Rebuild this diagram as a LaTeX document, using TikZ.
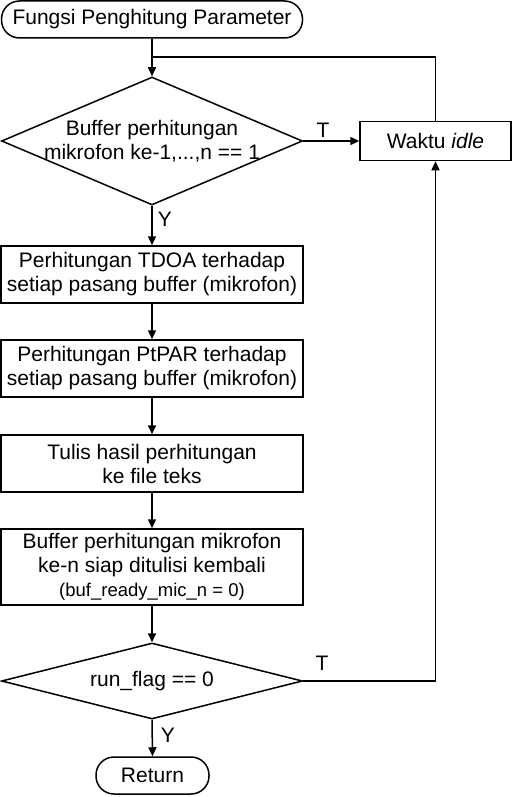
\documentclass[tikz,border=0pt]{standalone}
\usepackage{fontspec}
\setmainfont{Liberation Sans}
\usetikzlibrary{shapes.geometric,arrows.meta}
\begin{document}
\begin{tikzpicture}[x=1pt,y=-1pt,line width=1.5pt,
  font=\fontsize{21}{24}\selectfont,
  term/.style={draw, rounded corners=18pt, minimum height=37pt, inner sep=0pt},
  proc/.style={draw, rectangle, minimum width=302pt, align=center, inner sep=0pt},
  dec/.style={draw, diamond, minimum width=301pt, inner sep=0pt},
  arr/.style={-{Triangle[length=9pt,width=8pt]}},
  lbl/.style={inner sep=0pt}]
\useasboundingbox (0,0) rectangle (513,797);
\node [term, minimum width=301pt] (start) at (152,19.5) {Fungsi Penghitung Parameter};
\node [dec, minimum height=128pt] (cek) at (152,141) {};
\node [align=center] (cekteks) at (cek) {Buffer perhitungan\\mikrofon ke-1,...,n == 1};
\node [proc, minimum width=151pt, minimum height=39pt] (idle) at (435.5,141) {Waktu \textit{idle}};
\node [proc, minimum height=57pt] (tdoa) at (152,274.5) {Perhitungan TDOA terhadap\\setiap pasang buffer (mikrofon)};
\node [proc, minimum height=57pt] (ptpar) at (152,368.5) {Perhitungan PtPAR terhadap\\setiap pasang buffer (mikrofon)};
\node [proc, minimum height=57pt] (tulis) at (152,463.5) {Tulis hasil perhitungan\\ke file teks};
\node [proc, minimum height=76pt] (siap) at (152,567) {Buffer perhitungan mikrofon\\ke-n siap ditulisi kembali\\{\fontsize{18.5}{22}\selectfont(buf\_ready\_mic\_n = 0)}};
\node [dec, minimum height=76pt] (flag) at (152,681) {};
\node (flagteks) at (flag) {run\_flag == 0};
\node [term, minimum width=113pt] (ret) at (152.5,775.5) {Return};
\coordinate (gabung) at (152,57);
% konektor
\draw [arr] (start) -- (cek.north);
\draw (idle.north) |- (gabung);
\draw [arr] (cek.east) -- (idle.west);
\draw [arr] (cek.south) -- (tdoa.north);
\draw [arr] (tdoa) -- (ptpar);
\draw [arr] (ptpar) -- (tulis);
\draw [arr] (tulis) -- (siap);
\draw [arr] (siap.south) -- (flag.north);
\draw [arr] (flag.east) -| (idle.south);
\draw [arr] (flag.south) -- (ret.north);
% label
\node [lbl] (t1) at (323,130) {T};
\node [lbl] (y1) at (165,219) {Y};
\node [lbl] (t2) at (322,663) {T};
\node [lbl] (y2) at (168,735) {Y};
\end{tikzpicture}
\end{document}
